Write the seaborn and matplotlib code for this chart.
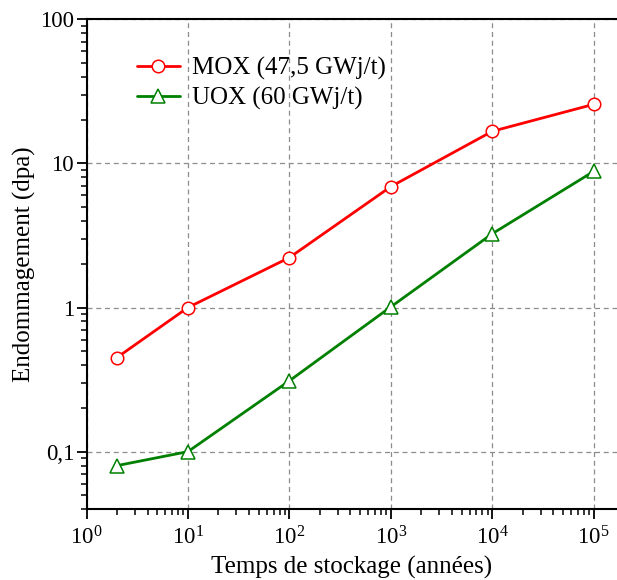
import pandas as pd
import matplotlib
matplotlib.use('Agg')
import matplotlib.pyplot as plt
import matplotlib.ticker as mticker
import seaborn as sns

# Données
annees = [2, 10, 100, 1000, 10000, 100000]
mox = [0.45, 1.0, 2.22, 6.9, 16.7, 25.7]
uox = [0.08, 0.1, 0.31, 1.01, 3.25, 8.8]
labels_series = ['MOX (47,5 GWj/t)', 'UOX (60 GWj/t)']
y_ticks = [0.1, 1, 10, 100]
y_tick_labels = ['0,1', '1', '10', '100']
x_ticks = [1, 10, 100, 1000, 10000, 100000]

sns.set_style('ticks')
plt.rcParams['font.family'] = ['Liberation Serif', 'DejaVu Serif']
plt.rcParams['mathtext.fontset'] = 'custom'
plt.rcParams['mathtext.rm'] = 'Liberation Serif'
plt.rcParams['mathtext.it'] = 'Liberation Serif'
plt.rcParams['text.color'] = 'black'
plt.rcParams['axes.labelcolor'] = 'black'
plt.rcParams['xtick.color'] = 'black'
plt.rcParams['ytick.color'] = 'black'

fig = plt.figure(figsize=(6.17, 5.8), dpi=100)
ax = fig.add_axes([0.1402, 0.1219, 0.8598, 0.8448])

df = pd.DataFrame({'annees': annees, 'MOX': mox, 'UOX': uox})

sns.lineplot(data=df, x='annees', y='MOX', ax=ax, color='#ff0000', lw=2,
             marker='o', markersize=9, markerfacecolor='white',
             markeredgecolor='#ff0000', markeredgewidth=1.1, label=labels_series[0])
sns.lineplot(data=df, x='annees', y='UOX', ax=ax, color='#008000', lw=2,
             marker='^', markersize=10, markerfacecolor='white',
             markeredgecolor='#008000', markeredgewidth=1.1, label=labels_series[1])

ax.set_xscale('log')
ax.set_yscale('log')
ax.set_xlim(1, 1.7e5)
ax.set_ylim(0.0398, 100)

ax.set_xticks(x_ticks)
ax.set_xticklabels([r'$10^{%d}$' % i for i in range(len(x_ticks))])
ax.set_yticks(y_ticks)
ax.set_yticklabels(y_tick_labels)
ax.xaxis.set_minor_locator(mticker.LogLocator(base=10, subs=range(2, 10), numticks=20))
ax.yaxis.set_minor_locator(mticker.LogLocator(base=10, subs=range(2, 10), numticks=20))
ax.xaxis.set_minor_formatter(mticker.NullFormatter())
ax.yaxis.set_minor_formatter(mticker.NullFormatter())

ax.tick_params(which='major', direction='out', length=7, width=1.3, labelsize=16.5,
               colors='black', pad=2)
ax.tick_params(axis='x', which='major', pad=5)
ax.tick_params(which='minor', direction='out', length=4, width=1.1, colors='black')

ax.grid(True, which='major', linestyle=(0, (4, 3)), color='#8c8c8c', lw=0.9)

for s in ['left', 'bottom', 'top']:
    ax.spines[s].set_linewidth(1.5)
    ax.spines[s].set_color('black')
ax.spines['right'].set_visible(False)

ax.set_xlabel('Temps de stockage (années)', fontsize=18, labelpad=5)
ax.set_ylabel('Endommagement (dpa)', fontsize=18, labelpad=3)

leg = ax.legend(loc='upper left', bbox_to_anchor=(0.085, 0.933), frameon=False,
                borderaxespad=0, borderpad=0.2,
                fontsize=18, handlelength=1.75, handletextpad=0.45, labelspacing=0.26)
for t in leg.get_texts():
    t.set_color('black')

plt.savefig('out.png', dpi=100)
